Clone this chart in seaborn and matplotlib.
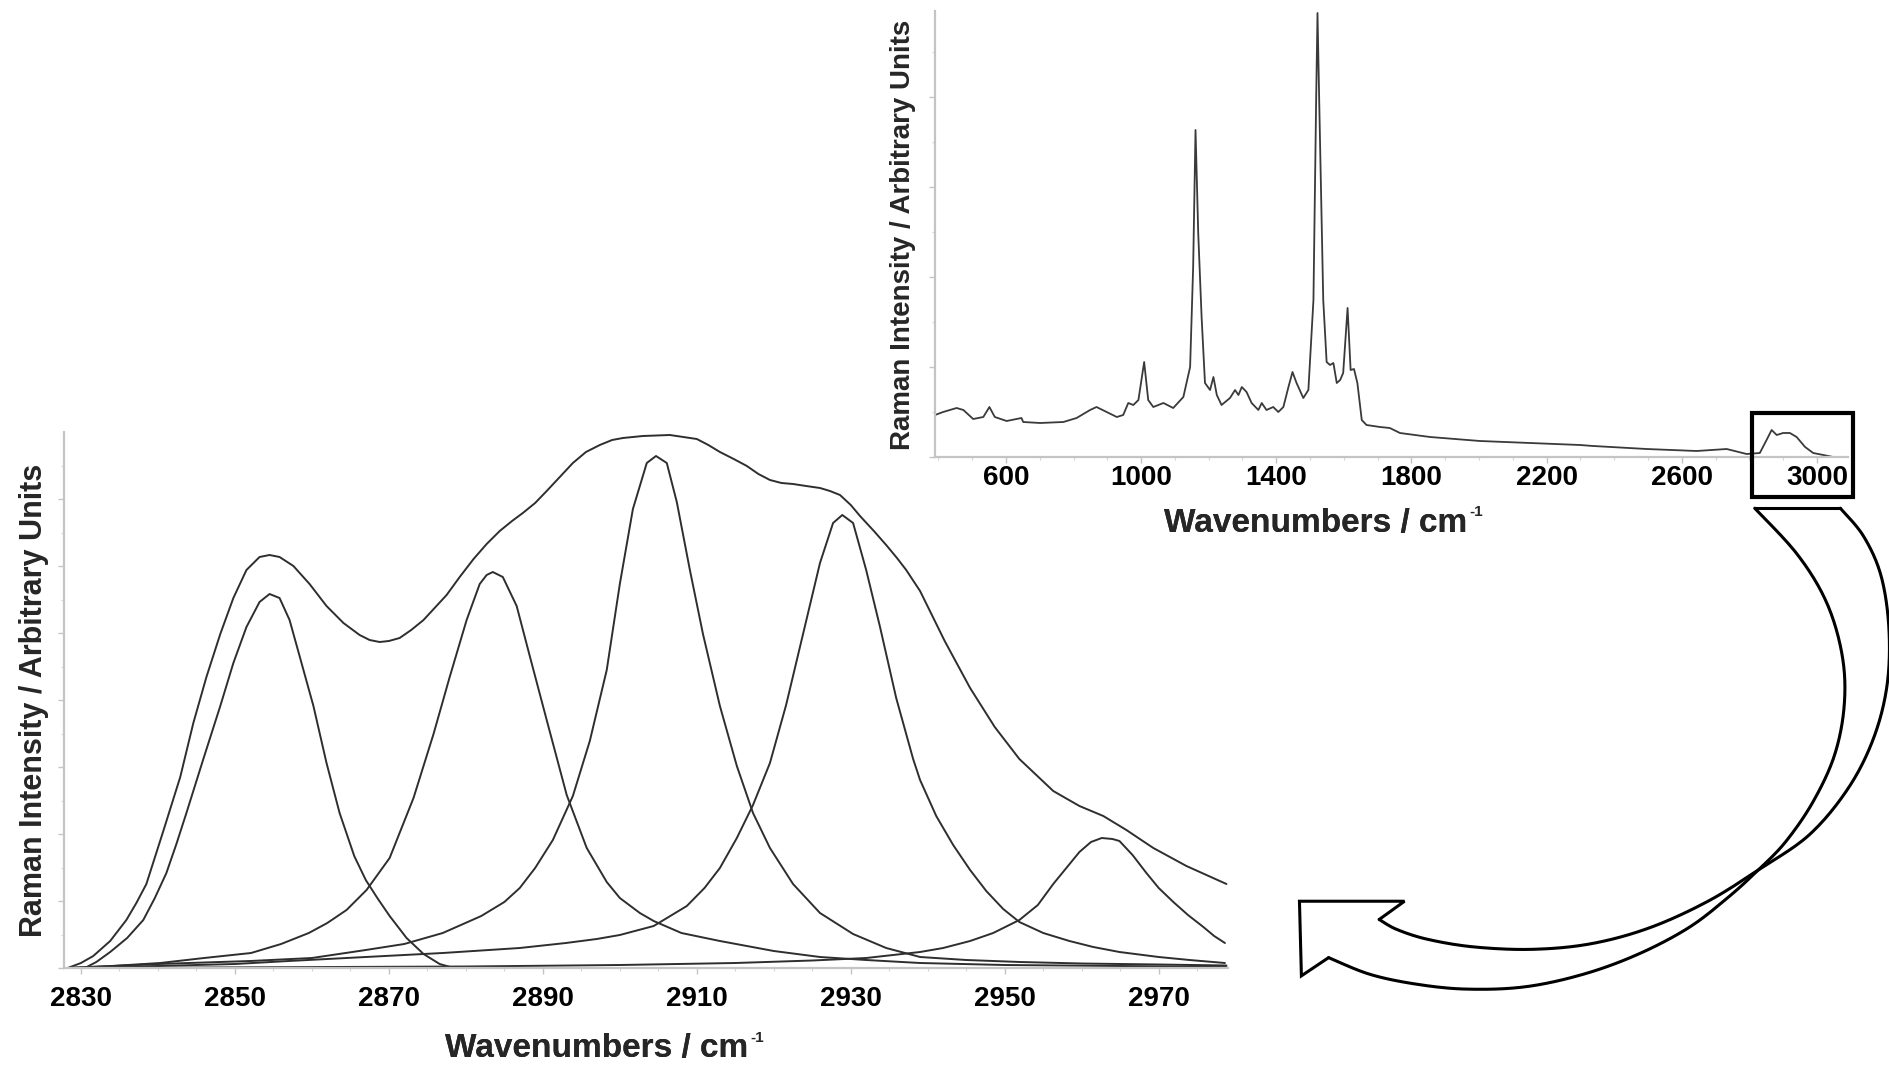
import numpy as np
import matplotlib
matplotlib.use("Agg")
import matplotlib.pyplot as plt
import seaborn as sns
from matplotlib.patches import Rectangle
from matplotlib.lines import Line2D

# ---- main panel: C-H stretch region, fitted band components ----
env_wn = [2828.3, 2830.0, 2831.6, 2833.8, 2835.9, 2837.2, 2838.5, 2840.7, 2842.9, 2844.6,
          2846.3, 2848.1, 2849.8, 2851.5, 2853.2, 2854.5, 2855.8, 2857.6, 2859.7, 2861.9,
          2864.1, 2866.2, 2867.5, 2868.8, 2870.0, 2871.4, 2872.9, 2874.5, 2877.5, 2879.2,
          2881.0, 2882.7, 2884.4, 2886.0, 2887.4, 2889.0, 2890.5, 2892.2, 2893.9, 2895.6,
          2897.4, 2899.0, 2900.4, 2903.0, 2906.5, 2910.0, 2911.5, 2913.0, 2914.8, 2916.5,
          2918.0, 2919.5, 2921.0, 2922.5, 2924.2, 2926.0, 2927.3, 2928.6, 2930.0, 2931.2,
          2933.0, 2934.6, 2936.0, 2937.2, 2939.0, 2942.2, 2945.5, 2948.7, 2951.9, 2956.3,
          2959.7, 2962.8, 2965.8, 2969.3, 2973.6, 2978.8]
env_int = [0, 5, 12, 27, 48, 65, 84, 137, 191, 245,
           291, 334, 370, 398, 411, 413, 411, 402, 384, 362,
           345, 333, 328, 326, 327, 330, 338, 348, 373, 391,
           409, 424, 437, 447, 455, 465, 477, 491, 505, 516,
           523, 528, 530, 532, 533, 529, 523, 516, 509, 502,
           494, 488, 485, 484, 482, 480, 477, 473, 463, 452,
           437, 423, 410, 398, 377, 327, 280, 241, 209, 177,
           162, 152, 138, 120, 102, 84]

p1_wn = [2830.5, 2832.0, 2833.8, 2836.0, 2838.1, 2839.6, 2841.1, 2842.4, 2843.7, 2845.9,
         2848.1, 2849.8, 2851.5, 2853.2, 2854.5, 2855.8, 2857.1, 2858.4, 2860.2, 2861.9,
         2863.6, 2865.5, 2867.0, 2868.5, 2870.1, 2872.3, 2874.5, 2876.6, 2878.4]
p1_int = [0, 6, 16, 30, 48, 70, 95, 124, 155, 209,
          262, 305, 341, 366, 374, 370, 348, 312, 262, 205,
          155, 112, 88, 70, 52, 30, 14, 4, 0]

p2_wn = [2828.3, 2834.0, 2840.3, 2846.0, 2852.1, 2856.0, 2859.6, 2862.0, 2864.5, 2867.1,
         2870.1, 2873.2, 2875.8, 2877.9, 2880.1, 2881.8, 2882.7, 2883.5, 2884.8, 2886.6,
         2888.3, 2890.5, 2893.1, 2895.7, 2898.3, 2900.0, 2902.6, 2904.4, 2908.0, 2913.0,
         2920.0, 2926.0, 2932.0, 2939.0, 2950.0, 2965.0, 2978.8]
p2_int = [0, 2, 5, 10, 15, 24, 35, 45, 58, 78,
          110, 170, 234, 291, 348, 384, 393, 396, 391, 362,
          312, 248, 173, 120, 86, 70, 55, 47, 35, 27,
          17, 11, 8, 5, 3, 2, 1]

p3_wn = [2828.3, 2840.0, 2852.0, 2860.0, 2867.0, 2872.0, 2877.0, 2882.0, 2885.0, 2887.0,
         2889.0, 2891.3, 2893.9, 2896.1, 2898.3, 2900.0, 2901.7, 2903.5, 2904.7, 2906.1,
         2907.4, 2909.1, 2910.8, 2913.0, 2915.2, 2917.3, 2919.5, 2922.5, 2926.0, 2930.3,
         2934.6, 2939.0, 2945.0, 2952.0, 2960.0, 2970.0, 2978.8]
p3_int = [0, 4, 7, 10, 18, 24, 35, 52, 66, 80,
          100, 128, 172, 227, 298, 384, 459, 505, 512, 505,
          466, 398, 334, 262, 202, 155, 120, 84, 55, 34,
          20, 11, 8, 6, 4.5, 3.5, 2.5]

p4_wn = [2828.3, 2840.0, 2850.0, 2857.0, 2867.0, 2877.0, 2887.0, 2893.0, 2897.0, 2900.0,
         2904.4, 2908.7, 2911.0, 2913.0, 2915.2, 2917.3, 2919.5, 2921.6, 2923.8, 2926.0,
         2927.7, 2928.9, 2930.3, 2932.0, 2933.8, 2935.9, 2938.1, 2939.0, 2941.1, 2943.3,
         2945.5, 2947.6, 2949.8, 2951.9, 2955.0, 2958.4, 2961.5, 2964.9, 2970.0, 2974.0,
         2978.6]
p4_int = [0, 2, 4, 7, 11, 15, 20, 25, 29, 33,
          42, 62, 80, 100, 130, 163, 205, 263, 334, 405,
          445, 453, 445, 398, 341, 270, 209, 188, 152, 123,
          98, 77, 59, 46, 35, 27, 21, 16, 11, 8,
          5]

p5_wn = [2828.3, 2880.0, 2900.0, 2915.0, 2925.0, 2932.0, 2939.0, 2942.0, 2945.5, 2948.5,
         2951.9, 2954.3, 2956.3, 2958.0, 2959.7, 2961.2, 2962.6, 2964.0, 2964.9, 2966.6,
         2968.4, 2970.0, 2971.9, 2973.8, 2975.8, 2977.2, 2978.6]
p5_int = [0, 1.5, 3, 5, 7.5, 10, 16, 20, 27, 35,
          48, 63, 84, 100, 116, 126, 130, 129, 127, 113,
          95, 80, 66, 53, 41, 32, 25]

main_ticks = [2830, 2850, 2870, 2890, 2910, 2930, 2950, 2970]

# ---- inset: full spectrum ----
full_wn = [390, 414, 454, 474, 503, 533, 551, 567, 602, 646, 651, 701, 770, 809, 849, 868,
           898, 928, 947, 962, 977, 992, 1009, 1021, 1036, 1066, 1095, 1125, 1145, 1154,
           1161, 1169, 1179, 1189, 1204, 1214, 1224, 1238, 1263, 1278, 1288, 1298, 1312,
           1327, 1347, 1357, 1371, 1391, 1406, 1421, 1436, 1448, 1460, 1480, 1495, 1510,
           1518, 1522, 1527, 1539, 1549, 1559, 1569, 1579, 1589, 1598, 1611, 1620, 1630,
           1640, 1653, 1667, 1707, 1736, 1766, 1855, 2003, 2151, 2299, 2338, 2496, 2644,
           2733, 2792, 2831, 2851, 2866, 2881, 2900, 2920, 2940, 2965, 2989, 3019, 3048]
full_int = [42, 45, 49, 47, 38, 40, 50, 40, 36, 39, 35, 34, 35, 39, 47, 50,
            45, 40, 42, 54, 52, 57, 95, 57, 50, 54, 49, 60, 90, 190,
            327, 224, 140, 74, 67, 80, 62, 52, 59, 67, 62, 70, 65,
            54, 47, 54, 47, 50, 45, 50, 70, 85, 74, 59, 67, 157,
            357, 444, 357, 157, 95, 92, 94, 74, 77, 84, 149, 87, 88,
            74, 37, 32, 30, 29, 24, 20, 16, 14, 12, 11, 8, 6,
            8, 3, 4, 17, 27, 22, 24, 24, 20, 10, 4, 2, 0]

inset_ticks = [600, 1000, 1400, 1800, 2200, 2600, 3000]

sns.set_style("ticks")
plt.rcParams['font.family'] = ['Liberation Sans', 'DejaVu Sans']
plt.rcParams['font.weight'] = 'bold'

W, H = 1890, 1069
fig = plt.figure(figsize=(W / 100, H / 100), dpi=100)

LINE = '#2e2e2e'
AXC = '#c4c4c4'


def style_axes(a, pad):
    for s in ['top', 'right']:
        a.spines[s].set_visible(False)
    for s in ['left', 'bottom']:
        a.spines[s].set_color(AXC)
        a.spines[s].set_linewidth(1.6)
    a.tick_params(axis='both', which='major', colors=AXC, labelcolor='black',
                  labelsize=20, length=4, width=1, pad=pad)
    a.tick_params(axis='both', which='minor', colors='#d4d4d4', length=2.5, width=0.8)
    a.tick_params(axis='y', labelleft=False)


def axis_title(x, y, size, sup_size):
    # "Wavenumbers / cm" with a small raised "-1"
    t = fig.text(x / W, 1 - y / H, 'Wavenumbers / cm', ha='center', va='center',
                 fontsize=size, fontweight='bold')
    fig.add_artist(t)
    ann = plt.Annotation('-1', xy=(1.0, 0.86), xycoords=t, xytext=(1.5, 0),
                         textcoords='offset points', ha='left', va='center',
                         fontsize=sup_size, fontweight='bold')
    fig.add_artist(ann)


# main panel
ax = fig.add_axes([64 / W, 1 - 968 / H, (1228 - 64) / W, (968 - 432) / H])
for xs, ys in [(env_wn, env_int), (p1_wn, p1_int), (p2_wn, p2_int),
               (p3_wn, p3_int), (p4_wn, p4_int), (p5_wn, p5_int)]:
    sns.lineplot(x=xs, y=ys, ax=ax, color=LINE, linewidth=1.4,
                 estimator=None, sort=False, clip_on=False)
ax.set_xlim(2827.8, 2979.0)
ax.set_ylim(0, 536)
ax.set_xticks(main_ticks)
ax.set_xticks(np.arange(2830, 2979, 5), minor=True)
ax.set_yticks(np.arange(0, 536, 67))
ax.set_yticks(np.arange(0, 536, 33.5), minor=True)
style_axes(ax, pad=9)
ax.set_xlabel('')
ax.set_ylabel('')

# inset panel
axi = fig.add_axes([935 / W, 1 - 457 / H, (1848 - 935) / W, (457 - 11) / H])
sns.lineplot(x=full_wn, y=full_int, ax=axi, color='#3a3a3a', linewidth=1.3,
             estimator=None, sort=False)
axi.set_xlim(390, 3092)
axi.set_ylim(0, 446)
axi.set_xticks(inset_ticks)
axi.set_xticks(np.arange(400, 3092, 100), minor=True)
axi.set_yticks(np.arange(0, 446, 90))
axi.set_yticks(np.arange(0, 446, 45), minor=True)
style_axes(axi, pad=2)
axi.set_xlabel('')
axi.set_ylabel('')

# axis titles
fig.text(34 / W, 1 - 700 / H, 'Raman Intensity / Arbitrary Units', rotation=90,
         ha='center', va='center', fontsize=22, fontweight='bold')
fig.text(903 / W, 1 - 235 / H, 'Raman Intensity / Arbitrary Units', rotation=90,
         ha='center', va='center', fontsize=20, fontweight='bold')
axis_title(597, 1049, 24, 11)
axis_title(1316, 523, 24, 11)

# highlight box around the C-H region of the inset
fig.patches.append(Rectangle((1752 / W, 1 - 497 / H), 101 / W, 84 / H,
                             transform=fig.transFigure, fill=False,
                             edgecolor='black', linewidth=3))


# curved block arrow (decoration)
def to_fig(pts):
    p = np.asarray(pts, float)
    return np.column_stack([(1280 + p[:, 0] / 2.57) / W,
                            1 - (480 + p[:, 1] / 3.015) / H])


def smooth(pts, n=14):
    p = np.asarray(pts, float)
    q = np.vstack([p[0], p, p[-1]])
    out = []
    t = np.linspace(0, 1, n, endpoint=False)[:, None]
    for i in range(1, len(q) - 2):
        p0, p1, p2, p3 = q[i - 1], q[i], q[i + 1], q[i + 2]
        out.append(0.5 * (2 * p1 + (-p0 + p2) * t + (2 * p0 - 5 * p1 + 4 * p2 - p3) * t ** 2
                          + (-p0 + 3 * p1 - 3 * p2 + p3) * t ** 3))
    out.append(p[-1:])
    return np.vstack(out)


edge_a = [(1220, 85), (1330, 225), (1405, 370), (1445, 530), (1450, 680), (1425, 830),
          (1370, 970), (1300, 1090), (1230, 1175), (1150, 1260), (1050, 1350), (920, 1430),
          (780, 1490), (630, 1528), (480, 1535), (350, 1520), (230, 1490), (125, 1440)]
edge_b = [(1440, 85), (1500, 170), (1545, 290), (1565, 450), (1560, 620), (1525, 780),
          (1460, 930), (1360, 1070), (1230, 1175), (1100, 1270), (950, 1350), (800, 1398),
          (650, 1415), (500, 1408), (380, 1385), (300, 1355), (255, 1325)]
head = [(255, 1325), (320, 1270), (50, 1270), (55, 1495), (125, 1440)]
mouth = [(1220, 85), (1440, 85)]

for seg in [to_fig(smooth(edge_a)), to_fig(smooth(edge_b)), to_fig(head), to_fig(mouth)]:
    fig.add_artist(Line2D(seg[:, 0], seg[:, 1], transform=fig.transFigure,
                          color='black', linewidth=2.2, solid_joinstyle='miter'))

fig.savefig('out.png', dpi=100, facecolor='white')
